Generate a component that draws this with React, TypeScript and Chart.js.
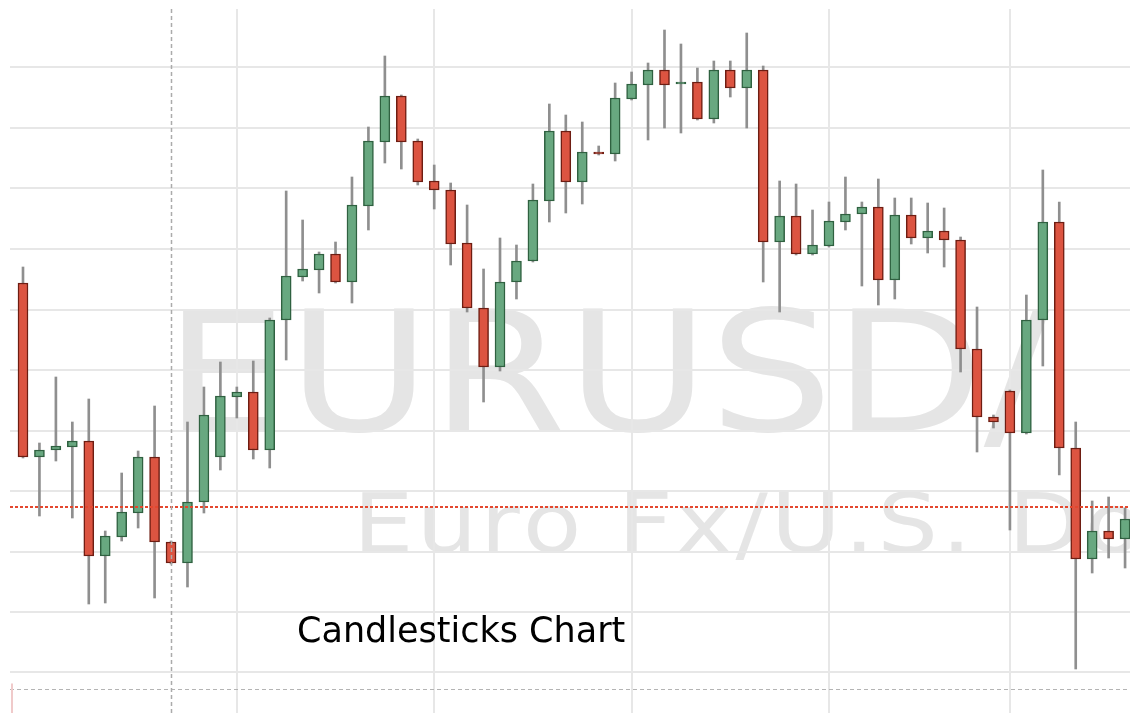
import React, { useEffect, useRef } from 'react';
import { Chart, registerables } from 'chart.js';

Chart.register(...registerables);

// ---- Data (EUR/USD daily candles) ----
const opens = [
  1.1389, 1.1215, 1.1222, 1.1225, 1.1231, 1.1116, 1.1135, 1.1159, 1.1215, 1.1130,
  1.1109, 1.1170, 1.1215, 1.1275, 1.1280, 1.1222, 1.1352, 1.1395, 1.1402, 1.1418,
  1.1390, 1.1466, 1.1530, 1.1576, 1.1531, 1.1491, 1.1482, 1.1429, 1.1364, 1.1305,
  1.1390, 1.1411, 1.1471, 1.1541, 1.1490, 1.1520, 1.1518, 1.1573, 1.1587, 1.1602,
  1.1588, 1.1590, 1.1553, 1.1602, 1.1584, 1.1602, 1.1430, 1.1456, 1.1418, 1.1426,
  1.1450, 1.1458, 1.1465, 1.1392, 1.1457, 1.1434, 1.1441, 1.1432, 1.1323, 1.1255,
  1.1281, 1.1239, 1.1352, 1.1450, 1.1224, 1.1113, 1.1141, 1.1133,
];
const highs = [
  1.1405, 1.1229, 1.1295, 1.1250, 1.1273, 1.1141, 1.1199, 1.1221, 1.1266, 1.1131,
  1.1250, 1.1285, 1.1310, 1.1285, 1.1311, 1.1354, 1.1481, 1.1452, 1.1420, 1.1430,
  1.1495, 1.1545, 1.1616, 1.1577, 1.1533, 1.1507, 1.1489, 1.1467, 1.1403, 1.1434,
  1.1427, 1.1488, 1.1568, 1.1557, 1.1550, 1.1526, 1.1589, 1.1600, 1.1609, 1.1642,
  1.1628, 1.1604, 1.1611, 1.1611, 1.1639, 1.1606, 1.1491, 1.1488, 1.1462, 1.1470,
  1.1495, 1.1470, 1.1493, 1.1474, 1.1474, 1.1469, 1.1464, 1.1435, 1.1365, 1.1257,
  1.1282, 1.1377, 1.1502, 1.1470, 1.1250, 1.1171, 1.1175, 1.1164,
];
const lows = [
  1.1214, 1.1156, 1.1211, 1.1154, 1.1068, 1.1069, 1.1131, 1.1144, 1.1074, 1.1108,
  1.1085, 1.1159, 1.1202, 1.1254, 1.1213, 1.1204, 1.1312, 1.1391, 1.1379, 1.1389,
  1.1369, 1.1442, 1.1509, 1.1503, 1.1487, 1.1463, 1.1407, 1.1360, 1.1270, 1.1301,
  1.1373, 1.1410, 1.1450, 1.1459, 1.1468, 1.1517, 1.1511, 1.1572, 1.1532, 1.1544,
  1.1539, 1.1552, 1.1549, 1.1575, 1.1544, 1.1390, 1.1360, 1.1417, 1.1417, 1.1425,
  1.1442, 1.1386, 1.1367, 1.1373, 1.1428, 1.1419, 1.1405, 1.1300, 1.1220, 1.1244,
  1.1142, 1.1238, 1.1306, 1.1197, 1.1003, 1.1099, 1.1114, 1.1104,
];
const closes = [
  1.1215, 1.1222, 1.1226, 1.1231, 1.1116, 1.1136, 1.1160, 1.1215, 1.1130, 1.1109,
  1.1170, 1.1257, 1.1276, 1.1280, 1.1222, 1.1352, 1.1396, 1.1403, 1.1418, 1.1390,
  1.1467, 1.1531, 1.1576, 1.1530, 1.1490, 1.1482, 1.1428, 1.1364, 1.1305, 1.1390,
  1.1411, 1.1472, 1.1541, 1.1490, 1.1520, 1.1518, 1.1574, 1.1588, 1.1602, 1.1587,
  1.1590, 1.1553, 1.1602, 1.1584, 1.1602, 1.1430, 1.1456, 1.1418, 1.1427, 1.1451,
  1.1458, 1.1465, 1.1392, 1.1457, 1.1434, 1.1441, 1.1432, 1.1323, 1.1255, 1.1250,
  1.1239, 1.1352, 1.1450, 1.1224, 1.1113, 1.1141, 1.1133, 1.1153,
];

// grid / reference levels
const priceGridLevels = [1.1000, 1.1060, 1.1120, 1.1181, 1.1241, 1.1302, 1.1362, 1.1423, 1.1484, 1.1544, 1.1605];
const timeGridIndices = [13, 25, 37, 49, 60];
const crosshairIndex = 9;
const currentPriceLevel = 1.1165;
const lowerDashedLevel = 1.0983;

const symbolText = 'EURUSD/';
const descriptionText = 'Euro Fx/U.S. Dollar';
const captionText = 'Candlesticks Chart';

const UP_FILL = '#68a880';
const UP_BORDER = '#2f6140';
const DOWN_FILL = '#dc5441';
const DOWN_BORDER = '#6e1d12';
const WICK = '#8f8f8f';
const GRID = '#e7e7e7';
const WATERMARK = '#e5e5e5';

function drawStretched(
  ctx: CanvasRenderingContext2D,
  text: string,
  x: number,
  y: number,
  sx: number,
  spacing: number,
) {
  ctx.save();
  ctx.translate(x, y);
  ctx.scale(sx, 1);
  let cx = 0;
  for (const ch of text) {
    ctx.fillText(ch, cx, 0);
    cx += ctx.measureText(ch).width + spacing;
  }
  ctx.restore();
}

const watermarkPlugin = {
  id: 'watermark',
  beforeDraw(chart: any) {
    const { ctx } = chart;
    ctx.save();
    ctx.fillStyle = WATERMARK;
    ctx.textBaseline = 'alphabetic';
    ctx.font = '167px "DejaVu Sans"';
    drawStretched(ctx, symbolText, 164, 431, 1.17, 0);
    ctx.font = '82px "DejaVu Sans"';
    drawStretched(ctx, descriptionText, 353, 552, 1.17, 2.5);
    ctx.restore();
  },
};

const overlayPlugin = {
  id: 'overlay',
  afterDraw(chart: any) {
    const { ctx, chartArea, scales } = chart;
    const xs = scales.x;
    const ys = scales.y;
    ctx.save();
    // current price dotted line
    const yCur = Math.round(ys.getPixelForValue(currentPriceLevel));
    ctx.strokeStyle = '#e4472e';
    ctx.lineWidth = 2;
    ctx.setLineDash([3, 2]);
    ctx.beginPath();
    ctx.moveTo(chartArea.left, yCur);
    ctx.lineTo(chartArea.right, yCur);
    ctx.stroke();
    // lower dashed line
    const yLow = Math.round(ys.getPixelForValue(lowerDashedLevel)) + 0.5;
    ctx.strokeStyle = '#b4b4b4';
    ctx.lineWidth = 1;
    ctx.setLineDash([4, 3]);
    ctx.beginPath();
    ctx.moveTo(chartArea.left, yLow);
    ctx.lineTo(chartArea.right, yLow);
    ctx.stroke();
    // crosshair vertical
    const xC = Math.round(xs.getPixelForValue(crosshairIndex)) + 0.5;
    ctx.strokeStyle = '#ababab';
    ctx.lineWidth = 1.5;
    ctx.setLineDash([4, 3]);
    ctx.beginPath();
    ctx.moveTo(xC, chartArea.top);
    ctx.lineTo(xC, chartArea.bottom);
    ctx.stroke();
    // small marker at left
    ctx.setLineDash([]);
    ctx.strokeStyle = '#f0caca';
    ctx.lineWidth = 2;
    ctx.beginPath();
    ctx.moveTo(chartArea.left + 2, yLow - 6);
    ctx.lineTo(chartArea.left + 2, chartArea.bottom);
    ctx.stroke();
    // caption
    ctx.fillStyle = '#000000';
    ctx.font = '35px "DejaVu Sans"';
    ctx.textBaseline = 'alphabetic';
    ctx.fillText(captionText, 297, 642);
    ctx.restore();
  },
};

export default function App() {
  const canvasRef = useRef<HTMLCanvasElement | null>(null);

  useEffect(() => {
    const canvas = canvasRef.current;
    if (!canvas) return;
    const up = opens.map((o, i) => closes[i] >= o);
    const bodies = opens.map((o, i) => ({ x: i, y: [o, closes[i]] }));
    const wicks = lows.map((l, i) => ({ x: i, y: [l, highs[i]] }));

    const chart = new Chart(canvas, {
      type: 'bar',
      data: {
        datasets: [
          {
            label: 'Body',
            data: bodies as any,
            grouped: false,
            order: 0,
            barThickness: 10,
            borderWidth: 1.5,
            borderSkipped: false,
            backgroundColor: up.map((u) => (u ? UP_FILL : DOWN_FILL)),
            borderColor: up.map((u) => (u ? UP_BORDER : DOWN_BORDER)),
          } as any,
          {
            label: 'Wick',
            data: wicks as any,
            grouped: false,
            order: 1,
            barThickness: 2,
            borderWidth: 0,
            borderSkipped: false,
            backgroundColor: WICK,
          } as any,
        ],
      },
      options: {
        responsive: false,
        animation: false,
        layout: { padding: { left: 10, top: 9, right: 0, bottom: 0 } },
        plugins: {
          legend: { display: false },
          tooltip: { enabled: false },
          title: { display: false },
        },
        scales: {
          x: {
            type: 'linear',
            offset: false,
            min: -0.79,
            max: 67.3,
            afterBuildTicks: (scale: any) => {
              scale.ticks = timeGridIndices.map((v) => ({ value: v }));
            },
            ticks: { display: false },
            grid: { color: GRID, lineWidth: 2, drawTicks: false, offset: false },
            border: { display: false },
          },
          y: {
            type: 'linear',
            min: 1.0959,
            max: 1.1663,
            afterBuildTicks: (scale: any) => {
              scale.ticks = priceGridLevels.map((v) => ({ value: v }));
            },
            ticks: { display: false },
            grid: { color: GRID, lineWidth: 2, drawTicks: false },
            border: { display: false },
          },
        },
      } as any,
      plugins: [watermarkPlugin, overlayPlugin],
    });
    return () => chart.destroy();
  }, []);

  return (
    <div style={{ position: 'fixed', left: 0, top: 0, width: 1130, height: 713, background: '#ffffff' }}>
      <canvas ref={canvasRef} width={1130} height={713} style={{ display: 'block' }} />
    </div>
  );
}
